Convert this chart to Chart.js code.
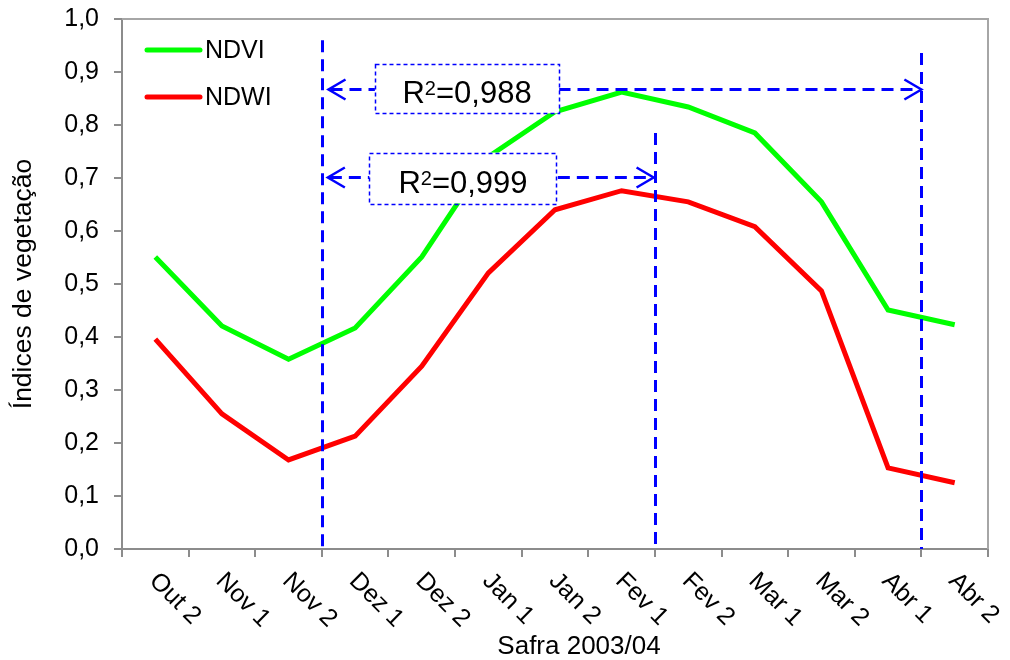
<!DOCTYPE html>
<html><head><meta charset="utf-8">
<script src="https://cdn.jsdelivr.net/npm/chart.js@4.4.0/dist/chart.umd.min.js"></script>
<style>html,body{margin:0;padding:0;background:#fff}#wrap{width:1010px;height:660px}</style>
</head><body><div id="wrap"><canvas id="c" width="1010" height="660"></canvas></div>
<script>
const categories = ['Out 2','Nov 1','Nov 2','Dez 1','Dez 2','Jan 1','Jan 2','Fev 1','Fev 2','Mar 1','Mar 2','Abr 1','Abr 2'];
const ndvi = [0.551,0.421,0.358,0.417,0.551,0.740,0.825,0.862,0.834,0.785,0.655,0.451,0.423];
const ndwi = [0.396,0.255,0.168,0.213,0.345,0.521,0.640,0.676,0.655,0.608,0.487,0.153,0.125];
const seriesNames = ['NDVI','NDWI'];
const seriesColors = ['#00ff00','#ff0000'];
const yMin = 0, yMax = 1.0, yStep = 0.1;
const xTitle = 'Safra 2003/04';
const yTitle = 'Índices de vegetação';

// annotations in data units (category index / y value)
const vLines = [{at: 2.5, top: 0.960}, {at: 7.5, top: 0.785}, {at: 11.5, top: 0.936}];
const arrows = [{from: 2.60, to: 11.5, y: 0.867}, {from: 2.59, to: 7.48, y: 0.701}];
const boxes = [
  {x0: 3.296, x1: 6.063, y0: 0.822, y1: 0.915, r2: '0,988'},
  {x0: 3.212, x1: 6.025, y0: 0.652, y1: 0.748, r2: '0,999'}
];

const FONT = "'Liberation Sans', Arial, sans-serif";
Chart.defaults.font.family = FONT;
Chart.defaults.color = '#000';

const BLUE = '#0000ff';

const annotPlugin = {
  id: 'annot',
  afterDatasetsDraw(chart) {
    const ctx = chart.ctx, xs = chart.scales.x, ys = chart.scales.y, ca = chart.chartArea;
    ctx.save();
    ctx.strokeStyle = BLUE; ctx.lineWidth = 3; ctx.setLineDash([12, 7]);
    vLines.forEach(v => {
      const x = Math.round(xs.getPixelForValue(v.at)) + 0.5;
      ctx.beginPath(); ctx.moveTo(x, ys.getPixelForValue(v.top)); ctx.lineTo(x, ca.bottom); ctx.stroke();
    });
    arrows.forEach(a => {
      const x0 = xs.getPixelForValue(a.from), x1 = xs.getPixelForValue(a.to), y = ys.getPixelForValue(a.y);
      ctx.setLineDash([12, 7]); ctx.lineWidth = 3;
      ctx.beginPath(); ctx.moveTo(x0 + 2, y); ctx.lineTo(x1 - 2, y); ctx.stroke();
      ctx.setLineDash([]); ctx.lineWidth = 2.5;
      ctx.beginPath(); ctx.moveTo(x0 + 17, y - 10); ctx.lineTo(x0, y); ctx.lineTo(x0 + 17, y + 10); ctx.stroke();
      ctx.beginPath(); ctx.moveTo(x1 - 17, y - 10); ctx.lineTo(x1, y); ctx.lineTo(x1 - 17, y + 10); ctx.stroke();
    });
    boxes.forEach(b => {
      const l = xs.getPixelForValue(b.x0), r = xs.getPixelForValue(b.x1);
      const t = ys.getPixelForValue(b.y1), bt = ys.getPixelForValue(b.y0);
      ctx.fillStyle = '#fff'; ctx.fillRect(l, t, r - l, bt - t);
      ctx.setLineDash([4, 3]); ctx.lineWidth = 1.5; ctx.strokeStyle = BLUE;
      ctx.strokeRect(Math.round(l) + 0.5, Math.round(t) + 0.5, Math.round(r - l), Math.round(bt - t));
      ctx.setLineDash([]);
      const big = '31px ' + FONT, small = '20px ' + FONT;
      ctx.fillStyle = '#000'; ctx.textAlign = 'left'; ctx.textBaseline = 'alphabetic';
      ctx.font = big; const wR = ctx.measureText('R').width; const wRest = ctx.measureText('=' + b.r2).width;
      ctx.font = small; const w2 = ctx.measureText('2').width;
      const total = wR + w2 + wRest;
      let x = (l + r) / 2 - total / 2;
      const base = (t + bt) / 2 + 14.5;
      ctx.font = big; ctx.fillText('R', x, base); x += wR;
      ctx.font = small; ctx.fillText('2', x, base - 8); x += w2;
      ctx.font = big; ctx.fillText('=' + b.r2, x, base);
    });
    ctx.lineCap = 'round'; ctx.lineWidth = 5;
    seriesNames.forEach((n, i) => {
      const y = ca.top + 31 + i * 47;
      ctx.strokeStyle = seriesColors[i];
      ctx.beginPath(); ctx.moveTo(ca.left + 25, y); ctx.lineTo(ca.left + 78, y); ctx.stroke();
      ctx.fillStyle = '#000'; ctx.font = '25px ' + FONT; ctx.textAlign = 'left'; ctx.textBaseline = 'middle';
      ctx.fillText(n, ca.left + 83, y + 1);
    });
    ctx.restore();
  },
  afterDraw(chart) {
    const ctx = chart.ctx, xs = chart.scales.x, ca = chart.chartArea;
    ctx.save();
    ctx.strokeStyle = '#a6a6a6'; ctx.lineWidth = 2;
    ctx.beginPath(); ctx.moveTo(ca.left, ca.top); ctx.lineTo(ca.right, ca.top); ctx.lineTo(ca.right, ca.bottom); ctx.stroke();
    ctx.fillStyle = '#000'; ctx.font = '25px ' + FONT; ctx.textAlign = 'left'; ctx.textBaseline = 'alphabetic';
    categories.forEach((c, i) => {
      const px = xs.getPixelForValue(i);
      ctx.save(); ctx.translate(px - 7, ca.bottom + 33); ctx.rotate(Math.PI / 4);
      ctx.fillText(c, 0, 0); ctx.restore();
    });
    ctx.font = '26px ' + FONT; ctx.textAlign = 'center';
    ctx.fillText(xTitle, (ca.left + ca.right) / 2 + 24, 654);
    ctx.restore();
  }
};

new Chart(document.getElementById('c'), {
  type: 'line',
  data: {
    labels: categories,
    datasets: [
      {label: seriesNames[0], data: ndvi, borderColor: seriesColors[0], borderWidth: 5, pointRadius: 0, tension: 0, fill: false},
      {label: seriesNames[1], data: ndwi, borderColor: seriesColors[1], borderWidth: 5, pointRadius: 0, tension: 0, fill: false}
    ]
  },
  options: {
    responsive: false, animation: false,
    layout: {padding: {top: 19, right: 22, left: 0, bottom: 0}},
    plugins: {legend: {display: false}, tooltip: {enabled: false}},
    scales: {
      x: {
        type: 'category', offset: true,
        grid: {display: true, drawOnChartArea: false, drawTicks: true, tickLength: 8, color: '#8c8c8c', lineWidth: 2, offset: true},
        border: {display: true, color: '#8c8c8c', width: 2},
        ticks: {display: false},
        afterFit(s) { s.height = 111; }
      },
      y: {
        min: yMin, max: yMax,
        grid: {display: true, drawOnChartArea: false, drawTicks: true, tickLength: 8, color: '#8c8c8c', lineWidth: 2},
        border: {display: true, color: '#8c8c8c', width: 2},
        ticks: {stepSize: yStep, padding: 15, font: {size: 25}, color: '#000',
          callback: v => Number(v).toFixed(1).replace('.', ',')},
        title: {display: true, text: yTitle, font: {size: 26.5}, color: '#000', padding: {top: 8, bottom: 0}},
        afterFit(s) { s.width = 122; s.paddingTop = 0; s.paddingBottom = 0; }
      }
    }
  },
  plugins: [annotPlugin]
});
</script>
</body></html>
